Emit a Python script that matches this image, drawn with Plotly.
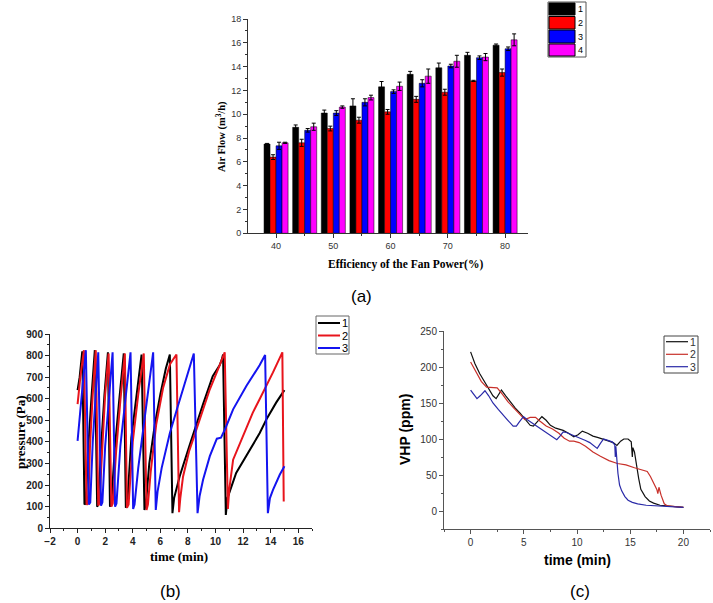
import plotly.graph_objects as go

W, H = 713, 603
def fx(x): return x / W
def fy(y): return 1 - y / H

# ---------------- (a) bar data ----------------
fan_power = [40, 45, 50, 55, 60, 65, 70, 75, 80]
bar_names = ["1", "2", "3", "4"]
air1 = [7.5, 8.9, 10.1, 10.7, 12.3, 13.35, 13.9, 14.95, 15.8]
air2 = [6.4, 7.6, 8.8, 9.5, 10.2, 11.25, 11.85, 12.8, 13.5]
air3 = [7.35, 8.65, 10.1, 11.0, 11.9, 12.6, 14.05, 14.75, 15.5]
air4 = [7.6, 8.95, 10.6, 11.4, 12.35, 13.2, 14.45, 14.8, 16.25]
err1 = [0.05, 0.2, 0.25, 0.6, 0.45, 0.25, 0.4, 0.25, 0.1]
err2 = [0.2, 0.3, 0.2, 0.25, 0.2, 0.25, 0.25, 0.05, 0.3]
err3 = [0.3, 0.15, 0.2, 0.3, 0.15, 0.3, 0.15, 0.15, 0.15]
err4 = [0.05, 0.3, 0.1, 0.2, 0.35, 0.6, 0.5, 0.3, 0.5]
bar_colors = ["#000000", "#ff0000", "#0000ff", "#ff00ff"]

# ---------------- (b) pressure data ----------------
p1_t = [0, 0.15, 0.34, 0.5, 0.6, 0.75, 1.0, 1.25, 1.42, 1.5, 1.7, 1.95, 2.2, 2.35, 2.45, 2.7, 3.0, 3.35,
        3.5, 3.6, 3.9, 4.3, 4.64, 4.85, 4.95, 5.2, 5.6, 6.0, 6.4, 6.69, 6.88, 7.0, 7.4, 8.1, 8.6, 9.1,
        9.8, 10.3, 10.45, 10.55, 10.75, 10.87, 11.5, 12.1, 12.7, 13.2, 13.7, 14.4, 15.0]
p1_v = [640, 700, 820, 110, 115, 350, 600, 825, 100, 110, 370, 620, 815, 100, 115, 370, 580, 810,
        95, 110, 420, 640, 805, 85, 110, 300, 480, 620, 740, 805, 70, 140, 240, 380, 480, 575,
        705, 755, 780, 805, 62, 140, 256, 320, 380, 440, 505, 582, 640]
p2_t = [0, 0.2, 0.46, 0.65, 0.77, 0.9, 1.1, 1.32, 1.5, 1.58, 1.8, 2.0, 2.25, 2.45, 2.55, 2.8, 3.1, 3.43,
        3.58, 3.7, 4.0, 4.4, 4.8, 5.0, 5.1, 5.3, 5.7, 6.2, 6.7, 7.17, 7.36, 7.45, 7.65, 8.1, 8.62,
        9.1, 9.59, 10.3, 10.67, 10.9, 11.0, 11.28, 11.8, 12.25, 12.7, 13.2, 13.7, 14.17, 14.85, 14.95]
p2_v = [575, 700, 825, 110, 115, 380, 620, 825, 105, 115, 380, 620, 810, 100, 115, 360, 590, 810,
        95, 110, 400, 620, 810, 85, 110, 260, 480, 650, 760, 805, 75, 140, 240, 360, 458,
        555, 644, 755, 815, 90, 180, 318, 400, 473, 535, 598, 660, 722, 815, 124]
p3_t = [0, 0.3, 0.6, 0.82, 0.92, 1.1, 1.3, 1.5, 1.7, 1.8, 2.0, 2.3, 2.54, 2.72, 2.82, 3.1, 3.5, 3.84,
        4.03, 4.13, 4.4, 5.0, 5.48, 5.67, 5.8, 6.1, 6.69, 7.2, 7.65, 8.1, 8.43, 8.7, 8.85, 9.1, 9.59,
        10.1, 10.4, 10.7, 11.28, 12.25, 13.2, 13.6, 13.8, 13.95, 14.17, 14.66, 15.0]
p3_v = [405, 620, 825, 110, 120, 400, 620, 815, 105, 120, 380, 620, 815, 100, 115, 380, 620, 815,
        90, 110, 280, 580, 815, 85, 170, 280, 440, 550, 650, 740, 810, 70, 150, 225, 334,
        415, 420, 460, 551, 660, 755, 803, 70, 140, 178, 248, 287]
press_colors = ["#000000", "#e8141c", "#1414f0"]

# ---------------- (c) VHP data ----------------
v1_t = [0, 0.4, 0.85, 1.3, 1.7, 2.1, 2.4, 2.9, 3.3, 3.7, 4.2, 4.65, 5.0, 5.3, 5.6, 5.9, 6.3, 6.7, 7.1,
        7.5, 8.0, 8.7, 9.2, 9.7, 10.1, 10.5, 11.0, 11.5, 12.0, 12.5, 13.0, 13.4, 13.75, 14.1, 14.4,
        14.8, 15.1, 15.2, 15.25, 15.4, 15.6, 15.8, 16.0, 16.4, 16.8, 17.2, 17.8, 18.5, 19.2, 20.0]
v1_v = [221, 205, 191, 180, 170, 160, 156, 168, 160, 152, 143, 136, 130, 124, 119, 118, 124, 131, 126,
        119, 115, 112, 108, 103, 106, 111, 108, 104, 102, 100, 97, 95, 91, 97, 100,
        100, 96, 75, 88, 82, 62, 45, 30, 20, 14, 11, 8, 7, 6, 5]
v2_t = [0, 0.5, 1.0, 1.5, 2.0, 2.5, 3.0, 3.5, 4.0, 4.6, 5.1, 5.6, 6.1, 6.5, 7.1, 7.7, 8.3, 8.8, 9.3,
        9.7, 10.2, 10.8, 11.5, 12.2, 13.0, 13.8, 14.6, 15.4, 16.0, 16.6, 16.9, 17.2, 17.5, 17.6,
        17.7, 17.9, 18.2, 18.5, 19.0, 20.0]
v2_v = [207, 193, 180, 172, 172, 171, 162, 152, 144, 134, 127, 130, 130, 125, 118, 114, 108, 101, 97,
        97, 95, 90, 82, 76, 70, 66, 64, 60, 57, 55, 48, 38, 30, 24,
        33, 22, 10, 7, 6, 5]
v3_t = [0, 0.3, 0.6, 0.9, 1.35, 1.7, 2.1, 2.6, 3.05, 3.5, 4.0, 4.3, 4.6, 4.97, 5.3, 5.6, 6.0, 6.5, 7.0,
        7.45, 8.1, 8.4, 8.7, 9.0, 9.35, 9.8, 10.3, 10.8, 11.2, 11.6, 11.9, 12.2, 12.5, 12.9, 13.3,
        13.55, 13.6, 13.65, 13.75, 13.85, 14.0, 14.2, 14.5, 14.8, 15.2, 15.7, 16.5, 17.5, 18.5, 20.0]
v3_v = [168, 162, 156, 160, 167, 160, 150, 141, 133, 126, 118, 118, 124, 131, 127, 124, 120, 116, 111,
        106, 99, 104, 110, 109, 107, 104, 101, 98, 95, 91, 87, 94, 100, 98, 96,
        92, 75, 90, 70, 52, 36, 28, 20, 15, 12, 10, 8, 7, 6, 5]
vhp_colors = ["#111111", "#c8302a", "#2a2aa8"]

series_names = ["1", "2", "3"]

fig = go.Figure()

for name, ys, es, col in zip(bar_names, [air1, air2, air3, air4], [err1, err2, err3, err4], bar_colors):
    fig.add_trace(go.Bar(
        x=fan_power, y=ys, name=name, marker=dict(color=col, line=dict(color="#000000", width=0.5)),
        error_y=dict(type="data", array=es, visible=True, color="#000000", thickness=1, width=2),
        xaxis="x", yaxis="y", showlegend=False))

for name, ts, vs, col in zip(series_names, [p1_t, p2_t, p3_t], [p1_v, p2_v, p3_v], press_colors):
    fig.add_trace(go.Scatter(x=ts, y=vs, mode="lines", name=name, line=dict(color=col, width=2),
                             xaxis="x2", yaxis="y2", showlegend=False))

for name, ts, vs, col in zip(series_names, [v1_t, v2_t, v3_t], [v1_v, v2_v, v3_v], vhp_colors):
    fig.add_trace(go.Scatter(x=ts, y=vs, mode="lines", name=name, line=dict(color=col, width=1.2),
                             xaxis="x3", yaxis="y3", showlegend=False))

serif = "Liberation Serif"
sans = "Liberation Sans"

def axis_common(color, fsize, bold=False, fcolor=None):
    return dict(showline=True, linecolor=color, linewidth=1, showgrid=False, zeroline=False,
                automargin=False, mirror=False,
                ticks="outside", tickcolor=color, ticklen=4, tickwidth=1,
                tickfont=dict(family=sans, size=fsize, color=fcolor or color,
                              weight="bold" if bold else "normal"))

fig.update_layout(
    template="none",
    width=W, height=H, margin=dict(l=0, r=0, t=0, b=0, autoexpand=False),
    paper_bgcolor="white", plot_bgcolor="white",
    barmode="group", bargap=0.16, bargroupgap=0,
    xaxis=dict(domain=[fx(248), fx(528)], range=[35.1, 84.0], anchor="y",
               tickvals=[40, 50, 60, 70, 80],
               minor=dict(tickvals=[45, 55, 65, 75], ticklen=2, ticks="outside", tickcolor="#333"),
               **axis_common("#333333", 9)),
    yaxis=dict(domain=[fy(233.3), fy(19)], range=[0, 18], anchor="x", dtick=2,
               minor=dict(dtick=1, ticklen=2, ticks="outside", tickcolor="#333"),
               **axis_common("#333333", 9)),
    xaxis2=dict(domain=[fx(50), fx(312)], range=[-2, 17], anchor="y2", dtick=2,
                minor=dict(dtick=1, ticklen=2, ticks="outside", tickcolor="#222"),
                **axis_common("#222222", 10, bold=True)),
    yaxis2=dict(domain=[fy(528.3), fy(334)], range=[0, 900], anchor="x2", dtick=100,
                minor=dict(dtick=50, ticklen=2, ticks="outside", tickcolor="#222"),
                **axis_common("#222222", 10, bold=True)),
    xaxis3=dict(domain=[fx(444), fx(710)], range=[-2.5, 22.5], anchor="y3", tickvals=[0, 5, 10, 15, 20],
                minor=dict(tickvals=[-2.5, 2.5, 7.5, 12.5, 17.5, 22.5], ticklen=2, ticks="outside", tickcolor="#555"),
                **axis_common("#555555", 10, fcolor="#333333")),
    yaxis3=dict(domain=[fy(529), fy(331)], range=[-25, 250], anchor="x3", tickvals=[0, 50, 100, 150, 200, 250],
                minor=dict(tickvals=[-25, 25, 75, 125, 175, 225], ticklen=2, ticks="outside", tickcolor="#555"),
                **axis_common("#555555", 10, fcolor="#333333")),
)

shapes = []
annotations = []

def ann(text, x, y, size, family, bold=False, angle=0, color="#000000", xanchor="center", yanchor="middle"):
    annotations.append(dict(text=text, x=fx(x), y=fy(y), xref="paper", yref="paper", showarrow=False,
                            textangle=angle, xanchor=xanchor, yanchor=yanchor,
                            font=dict(family=family, size=size, color=color,
                                      weight="bold" if bold else "normal")))

# axis titles
ann("Air Flow (m<sup>3</sup>/h)", 221, 137, 10.5, serif, bold=True, angle=-90)
ann("Efficiency of the Fan Power(%)", 405, 264, 11.5, serif, bold=True)
ann("pressure (Pa)", 20, 432, 13, serif, bold=True, angle=-90)
ann("time (min)", 179, 556, 13, serif, bold=True)
ann("VHP (ppm)", 405, 430, 14, sans, bold=True, angle=-90)
ann("time (min)", 577, 560, 14, sans, bold=True)
# panel labels
ann("(a)", 361, 296, 17, sans)
ann("(b)", 170, 591, 17, sans)
ann("(c)", 580, 591, 17, sans)

# legend (a)
shapes.append(dict(type="rect", xref="paper", yref="paper", x0=fx(548), x1=fx(586), y0=fy(57), y1=fy(2),
                   line=dict(color="#555555", width=1), fillcolor="white"))
rows_a = [(3, 15), (16.5, 29), (30, 43), (44, 56)]
for (y0, y1), col, name in zip(rows_a, bar_colors, bar_names):
    shapes.append(dict(type="rect", xref="paper", yref="paper", x0=fx(549), x1=fx(575), y0=fy(y1), y1=fy(y0),
                       line=dict(color="#000000", width=1), fillcolor=col))
    ann(name, 580.5, (y0 + y1) / 2, 9, sans)

# legend (b)
shapes.append(dict(type="rect", xref="paper", yref="paper", x0=fx(316), x1=fx(349), y0=fy(354), y1=fy(316),
                   line=dict(color="#666666", width=1), fillcolor="rgba(0,0,0,0)"))
for yy, col, name in zip([323, 335.5, 348], press_colors, series_names):
    shapes.append(dict(type="line", xref="paper", yref="paper", x0=fx(318), x1=fx(340), y0=fy(yy), y1=fy(yy),
                       line=dict(color=col, width=2)))
    ann(name, 345, yy, 11, sans)

# legend (c)
shapes.append(dict(type="rect", xref="paper", yref="paper", x0=fx(664), x1=fx(698), y0=fy(373), y1=fy(336),
                   line=dict(color="#444444", width=1), fillcolor="rgba(0,0,0,0)"))
for yy, col, name in zip([341.7, 354.3, 366.7], vhp_colors, series_names):
    shapes.append(dict(type="line", xref="paper", yref="paper", x0=fx(666), x1=fx(688), y0=fy(yy), y1=fy(yy),
                       line=dict(color=col, width=1.2)))
    ann(name, 693, yy, 10.5, sans, color="#333333")

fig.update_layout(shapes=shapes, annotations=annotations)
fig.write_html("out.html", config={"displayModeBar": False},
               post_script="document.body.style.margin='0';document.body.style.overflow='hidden';")
